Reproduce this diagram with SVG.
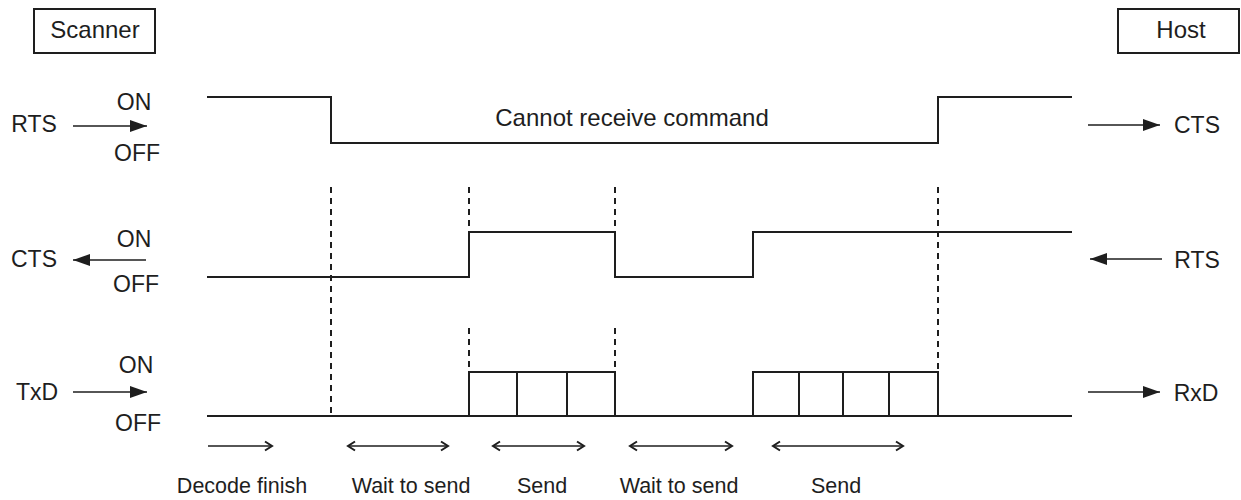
<svg xmlns="http://www.w3.org/2000/svg" width="1241" height="500" viewBox="0 0 1241 500">
<style>
text{font-family:"Liberation Sans",Arial,sans-serif;fill:#1e1e1e;text-anchor:middle}
.t24{font-size:24px}
.t23{font-size:23px}
.t21{font-size:21.5px}
.sig{fill:none;stroke:#1e1e1e;stroke-width:2}
.dash{fill:none;stroke:#1e1e1e;stroke-width:2;stroke-dasharray:6 5}
.arr{fill:none;stroke:#1e1e1e;stroke-width:1.6}
.box{fill:#fff;stroke:#1e1e1e;stroke-width:2}
</style>
<defs>
<marker id="fa" markerUnits="userSpaceOnUse" markerWidth="20" markerHeight="14" viewBox="-17 -7 18 14" refX="0" refY="0" orient="auto">
<path d="M-17,-6 L0,0 L-17,6 Z" fill="#1e1e1e"/>
</marker>
<marker id="oa" markerUnits="userSpaceOnUse" markerWidth="12" markerHeight="12" viewBox="-9 -6 11 12" refX="0" refY="0" orient="auto-start-reverse">
<path d="M-7,-4.5 L0,0 L-7,4.5" fill="none" stroke="#1e1e1e" stroke-width="2"/>
</marker>
</defs>
<rect width="1241" height="500" fill="#fff"/>

<g id="scanner">
<rect class="box" x="34" y="9" width="121" height="44"/>
<text class="t24" x="95" y="38">Scanner</text>
</g>
<g id="host">
<rect class="box" x="1118" y="9" width="121" height="44"/>
<text class="t24" x="1181" y="38">Host</text>
</g>

<g id="row-rts">
<text class="t23" x="34" y="132">RTS</text>
<text class="t23" x="134" y="110">ON</text>
<text class="t23" x="137" y="161">OFF</text>
<path class="sig" d="M207,97 H331 V143 H938 V97 H1072"/>
<text class="t24" x="632" y="126">Cannot receive command</text>
<text class="t23" x="1197" y="133">CTS</text>
</g>

<g id="row-cts">
<text class="t23" x="34" y="267">CTS</text>
<text class="t23" x="134" y="247">ON</text>
<text class="t23" x="136" y="292">OFF</text>
<path class="sig" d="M207,277 H469 V232 H615 V277 H753 V232 H1072"/>
<text class="t23" x="1197" y="268">RTS</text>
</g>

<g id="row-txd">
<text class="t23" x="37" y="400">TxD</text>
<text class="t23" x="136" y="373">ON</text>
<text class="t23" x="138" y="431">OFF</text>
<path class="sig" d="M207,416 H1072"/>
<path class="sig" d="M469,416 V372 H615 V416 M517,372 V416 M567,372 V416"/>
<path class="sig" d="M753,416 V372 H938 V416 M799,372 V416 M843,372 V416 M889,372 V416"/>
<text class="t23" x="1196" y="401">RxD</text>
</g>

<g id="markers">
<path class="dash" d="M331,187 V414"/>
<path class="dash" d="M469,187 V231 M469,328 V367"/>
<path class="dash" d="M615,187 V231 M615,328 V367"/>
<path class="dash" d="M938,187 V371"/>
</g>

<g id="phases">
<text class="t21" x="242" y="493">Decode finish</text>
<text class="t21" x="411" y="493">Wait to send</text>
<text class="t21" x="542" y="493">Send</text>
<text class="t21" x="679" y="493">Wait to send</text>
<text class="t21" x="836" y="493">Send</text>
</g>

<g id="connectors">
<line class="arr" x1="73" y1="126" x2="147" y2="126" marker-end="url(#fa)"/>
<line class="arr" x1="146" y1="260" x2="73" y2="260" marker-end="url(#fa)"/>
<line class="arr" x1="73" y1="392" x2="147" y2="392" marker-end="url(#fa)"/>
<line class="arr" x1="1088" y1="125" x2="1160" y2="125" marker-end="url(#fa)"/>
<line class="arr" x1="1162" y1="259" x2="1090" y2="259" marker-end="url(#fa)"/>
<line class="arr" x1="1088" y1="392" x2="1160" y2="392" marker-end="url(#fa)"/>
<line class="arr" x1="208" y1="446" x2="272" y2="446" marker-end="url(#oa)"/>
<line class="arr" x1="348" y1="446" x2="448" y2="446" marker-start="url(#oa)" marker-end="url(#oa)"/>
<line class="arr" x1="493" y1="446" x2="584" y2="446" marker-start="url(#oa)" marker-end="url(#oa)"/>
<line class="arr" x1="630" y1="446" x2="732" y2="446" marker-start="url(#oa)" marker-end="url(#oa)"/>
<line class="arr" x1="773" y1="446" x2="903" y2="446" marker-start="url(#oa)" marker-end="url(#oa)"/>
</g>
</svg>
